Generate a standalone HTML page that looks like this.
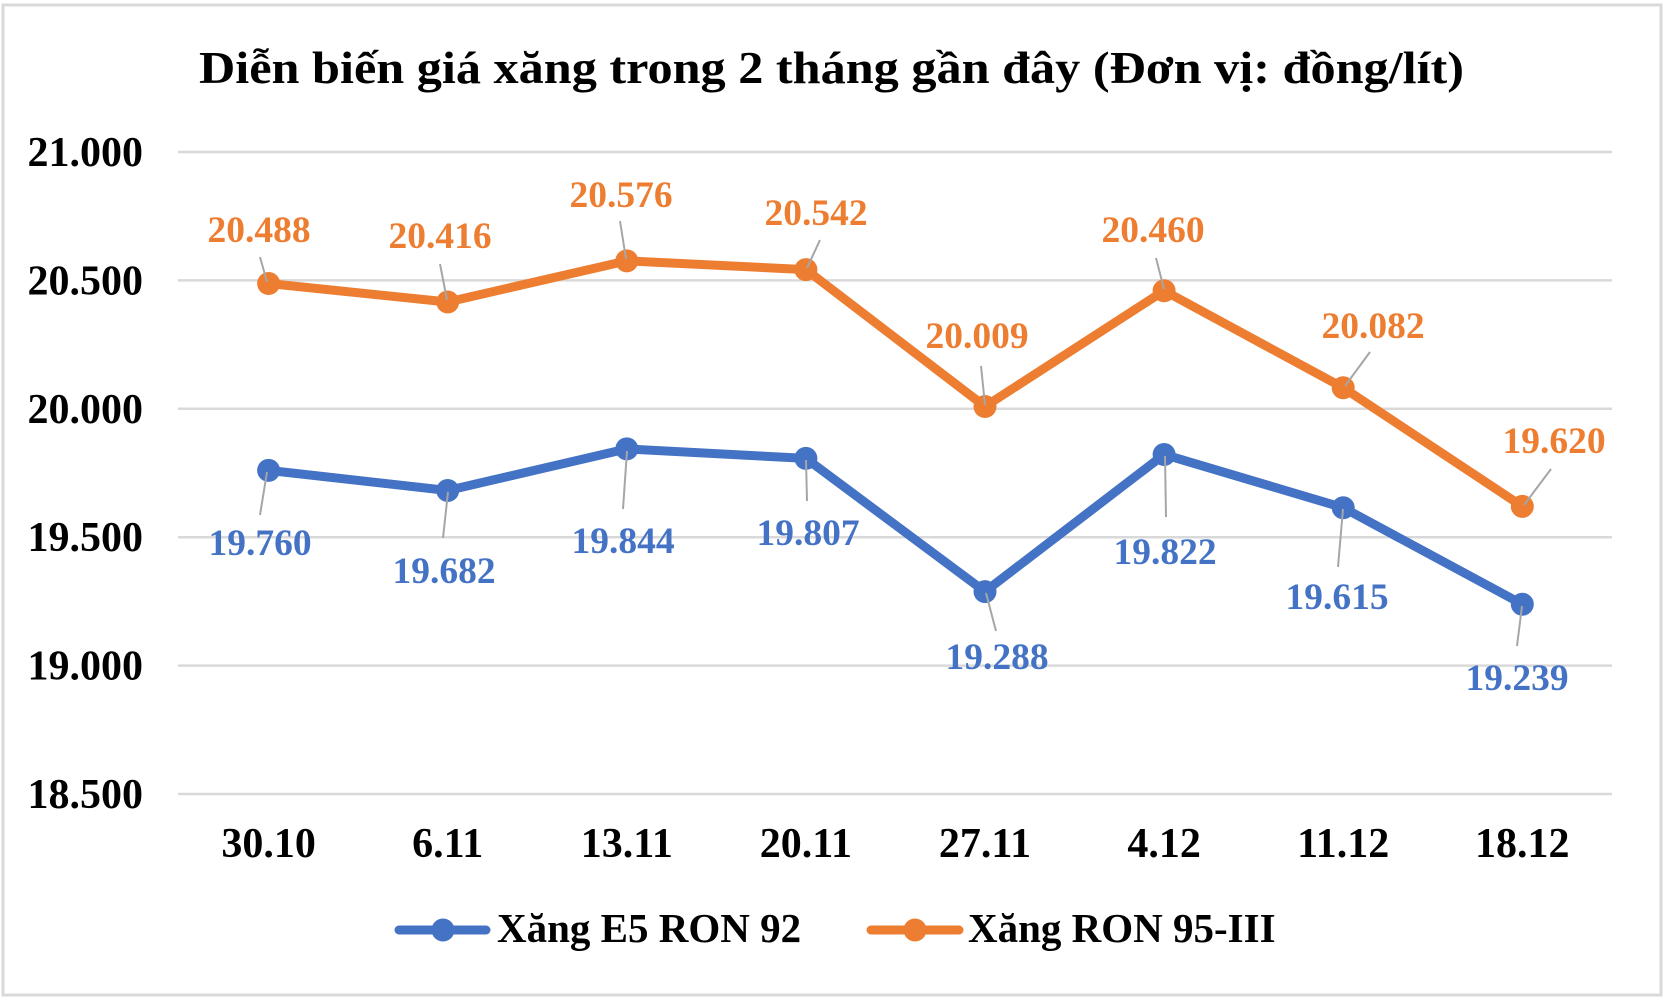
<!DOCTYPE html>
<html>
<head>
<meta charset="utf-8">
<style>
html,body{margin:0;padding:0;background:#fff;}
svg{display:block;}
text{font-family:"Liberation Serif","Times New Roman",serif;font-weight:bold;}
</style>
</head>
<body>
<svg width="1668" height="1003" viewBox="0 0 1668 1003" xmlns="http://www.w3.org/2000/svg">
<rect x="0" y="0" width="1668" height="1003" fill="#fff"/>
<rect x="3" y="5" width="1658" height="990" fill="#fff" stroke="#d9d9d9" stroke-width="3"/>

<!-- title -->
<text x="831.5" y="83" font-size="46" text-anchor="middle" textLength="1265" lengthAdjust="spacingAndGlyphs" fill="#000">Diễn biến giá xăng trong 2 tháng gần đây (Đơn vị: đồng/lít)</text>

<!-- gridlines -->
<g stroke="#d9d9d9" stroke-width="2.5">
<line x1="178" y1="152" x2="1612" y2="152"/>
<line x1="178" y1="280.4" x2="1612" y2="280.4"/>
<line x1="178" y1="408.8" x2="1612" y2="408.8"/>
<line x1="178" y1="537.2" x2="1612" y2="537.2"/>
<line x1="178" y1="665.6" x2="1612" y2="665.6"/>
<line x1="178" y1="794" x2="1612" y2="794"/>
</g>

<!-- y labels -->
<g font-size="42" text-anchor="end" fill="#000">
<text x="143" y="166">21.000</text>
<text x="143" y="294.4">20.500</text>
<text x="143" y="422.8">20.000</text>
<text x="143" y="551.2">19.500</text>
<text x="143" y="679.6">19.000</text>
<text x="143" y="808">18.500</text>
</g>

<!-- x labels -->
<g font-size="42" text-anchor="middle" fill="#000">
<text x="268.6" y="857">30.10</text>
<text x="447.7" y="857">6.11</text>
<text x="626.8" y="857">13.11</text>
<text x="805.9" y="857">20.11</text>
<text x="985" y="857">27.11</text>
<text x="1164.1" y="857">4.12</text>
<text x="1343.2" y="857">11.12</text>
<text x="1522.3" y="857">18.12</text>
</g>

<!-- blue series -->
<polyline fill="none" stroke="#4472C4" stroke-width="9" stroke-linejoin="round" stroke-linecap="round"
 points="268.6,470.4 447.7,490.5 626.8,448.9 805.9,458.4 985,591.6 1164.1,454.5 1343.2,507.7 1522.3,604.2"/>
<g fill="#4472C4">
<circle cx="268.6" cy="470.4" r="11.5"/>
<circle cx="447.7" cy="490.5" r="11.5"/>
<circle cx="626.8" cy="448.9" r="11.5"/>
<circle cx="805.9" cy="458.4" r="11.5"/>
<circle cx="985" cy="591.6" r="11.5"/>
<circle cx="1164.1" cy="454.5" r="11.5"/>
<circle cx="1343.2" cy="507.7" r="11.5"/>
<circle cx="1522.3" cy="604.2" r="11.5"/>
</g>

<!-- orange series -->
<polyline fill="none" stroke="#ED7D31" stroke-width="9" stroke-linejoin="round" stroke-linecap="round"
 points="268.6,283.5 447.7,302 626.8,260.9 805.9,269.6 985,406.5 1164.1,290.7 1343.2,387.7 1522.3,506.4"/>
<g fill="#ED7D31">
<circle cx="268.6" cy="283.5" r="11.5"/>
<circle cx="447.7" cy="302" r="11.5"/>
<circle cx="626.8" cy="260.9" r="11.5"/>
<circle cx="805.9" cy="269.6" r="11.5"/>
<circle cx="985" cy="406.5" r="11.5"/>
<circle cx="1164.1" cy="290.7" r="11.5"/>
<circle cx="1343.2" cy="387.7" r="11.5"/>
<circle cx="1522.3" cy="506.4" r="11.5"/>
</g>

<!-- leader lines -->
<g stroke="#a6a6a6" stroke-width="2">
<line x1="260" y1="257" x2="267" y2="282"/>
<line x1="440" y1="264" x2="447" y2="300"/>
<line x1="620" y1="221" x2="626" y2="259"/>
<line x1="820" y1="240" x2="807" y2="268"/>
<line x1="981" y1="366" x2="985" y2="405"/>
<line x1="1156" y1="258" x2="1164" y2="289"/>
<line x1="1370" y1="352" x2="1345" y2="386"/>
<line x1="1551" y1="469" x2="1524" y2="505"/>

<line x1="267" y1="472" x2="260" y2="515"/>
<line x1="448" y1="492" x2="443" y2="538"/>
<line x1="627" y1="451" x2="623" y2="509"/>
<line x1="806" y1="460" x2="807" y2="501"/>
<line x1="986" y1="593" x2="996" y2="631"/>
<line x1="1165" y1="456" x2="1166" y2="517"/>
<line x1="1343" y1="509" x2="1338" y2="567"/>
<line x1="1522" y1="606" x2="1517" y2="646"/>
</g>

<!-- orange data labels -->
<g font-size="37.5" text-anchor="middle" fill="#ED7D31">
<text x="259" y="242">20.488</text>
<text x="440" y="248">20.416</text>
<text x="621" y="207">20.576</text>
<text x="816" y="225">20.542</text>
<text x="977" y="348">20.009</text>
<text x="1153" y="242">20.460</text>
<text x="1373" y="338">20.082</text>
<text x="1554" y="453">19.620</text>
</g>

<!-- blue data labels -->
<g font-size="37.5" text-anchor="middle" fill="#4472C4">
<text x="260" y="555">19.760</text>
<text x="444" y="583">19.682</text>
<text x="623" y="553">19.844</text>
<text x="808" y="545">19.807</text>
<text x="997" y="669">19.288</text>
<text x="1165" y="564">19.822</text>
<text x="1337" y="609">19.615</text>
<text x="1517" y="690">19.239</text>
</g>

<!-- legend -->
<line x1="399" y1="930" x2="486" y2="930" stroke="#4472C4" stroke-width="9" stroke-linecap="round"/>
<circle cx="443" cy="930" r="11.5" fill="#4472C4"/>
<text x="497" y="942" font-size="41" fill="#000">Xăng E5 RON 92</text>

<line x1="871" y1="930" x2="959" y2="930" stroke="#ED7D31" stroke-width="9" stroke-linecap="round"/>
<circle cx="915" cy="930" r="11.5" fill="#ED7D31"/>
<text x="968" y="942" font-size="41" fill="#000">Xăng RON 95-III</text>
</svg>
</body>
</html>
